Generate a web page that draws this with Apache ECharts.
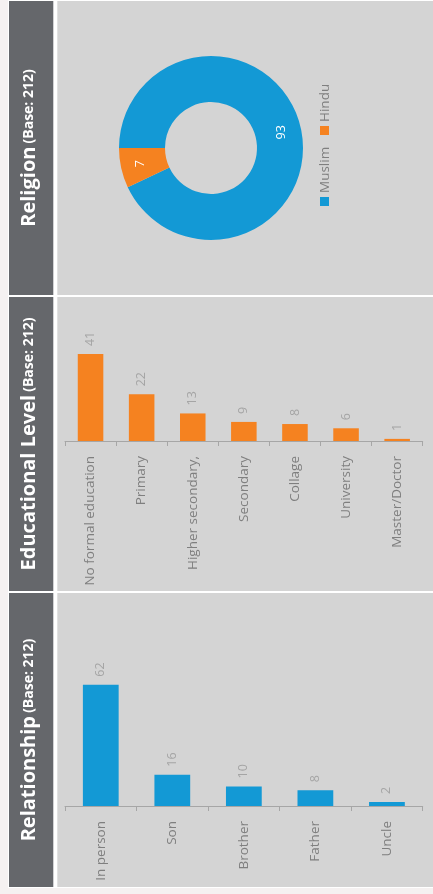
<!DOCTYPE html>
<html>
<head>
<meta charset="utf-8">
<script src="https://cdn.jsdelivr.net/npm/echarts@6/dist/echarts.min.js"></script>
<style>
html,body{margin:0;padding:0;background:#f5f1f1;}
#c{width:433px;height:894px;}
</style>
</head>
<body>
<div id="c"></div>
<script>
// ---- data ----
var religionNames = ['Muslim', 'Hindu'];
var religionValues = [93, 7];
var religionColors = ['#1399d5', '#f58220'];

var eduCategories = ['No formal education', 'Primary', 'Higher secondary,', 'Secondary', 'Collage', 'University', 'Master/Doctor'];
var eduValues = [41, 22, 13, 9, 8, 6, 1];

var relCategories = ['In person', 'Son', 'Brother', 'Father', 'Uncle'];
var relValues = [62, 16, 10, 8, 2];

var headerTitles = ['Religion', 'Educational Level', 'Relationship'];
var headerBase = '(Base: 212)';

// ---- layout ----
var FONT = 'Open Sans';
var panels = [[1, 295], [297, 591], [593, 887]];
var graphics = [];
graphics.push({type:'rect', z:-20, shape:{x:8, y:0, width:425, height:888}, style:{fill:'#ffffff'}});
panels.forEach(function (p, i) {
  graphics.push({type:'rect', z:-10, shape:{x:9, y:p[0], width:44.3, height:p[1]-p[0]}, style:{fill:'#65676b'}});
  graphics.push({type:'rect', z:-10, shape:{x:57.3, y:p[0], width:376, height:p[1]-p[0]}, style:{fill:'#d4d4d4'}});
  graphics.push({
    type:'text', z:50, x:29, y:(p[0]+p[1])/2, rotation:Math.PI/2,
    style:{
      text:'{a|' + headerTitles[i] + '} {b|' + headerBase + '}',
      align:'center', verticalAlign:'middle', fill:'#ffffff', fontFamily:FONT,
      rich:{
        a:{fontSize:20, fontWeight:'bold', fill:'#ffffff', fontFamily:FONT},
        b:{fontSize:14, fontWeight:'bold', fill:'#ffffff', fontFamily:FONT}
      }
    }
  });
});
// legend for religion (rotated, built from the arrays)
var legendY = [197, 126];
religionNames.forEach(function (n, i) {
  graphics.push({type:'rect', z:50, shape:{x:320, y:legendY[i], width:9, height:9}, style:{fill:religionColors[i]}});
  graphics.push({type:'text', z:50, x:325, y:legendY[i]-4, rotation:Math.PI/2,
    style:{text:n, align:'left', verticalAlign:'middle', fill:'#7f7f7f', fontSize:13.5, fontFamily:FONT}});
});

var axisLine = {show:true, lineStyle:{color:'#a6a6a6', width:1}};
var valueLabel = {show:true, position:'top', rotate:90, align:'left', verticalAlign:'middle',
  distance:8, color:'#a5a5a5', fontSize:12.5, fontFamily:FONT};

var chart = echarts.init(document.getElementById('c'), null, {renderer:'canvas'});
chart.setOption({
  backgroundColor:'#f5f1f1',
  animation:false,
  textStyle:{fontFamily:FONT},
  graphic:{elements:graphics},
  grid:[
    {left:65, right:10.3, top:335, bottom:453},
    {left:65, right:10.3, top:669, bottom:88}
  ],
  xAxis:[
    {type:'category', gridIndex:0, data:eduCategories,
     axisLine:axisLine, axisTick:{show:true, length:5, lineStyle:{color:'#a6a6a6'}},
     axisLabel:{rotate:90, interval:0, margin:15, color:'#7f7f7f', fontSize:13.5, fontFamily:FONT}},
    {type:'category', gridIndex:1, data:relCategories,
     axisLine:axisLine, axisTick:{show:true, length:5, lineStyle:{color:'#a6a6a6'}},
     axisLabel:{rotate:90, interval:0, margin:15, color:'#7f7f7f', fontSize:13.5, fontFamily:FONT}}
  ],
  yAxis:[
    {type:'value', gridIndex:0, min:0, max:50, show:false},
    {type:'value', gridIndex:1, min:0, max:70, show:false}
  ],
  series:[
    {type:'bar', xAxisIndex:0, yAxisIndex:0, data:eduValues, barWidth:'50%',
     itemStyle:{color:'#f58220'}, label:valueLabel, emphasis:{disabled:true}},
    {type:'bar', xAxisIndex:1, yAxisIndex:1, data:relValues, barWidth:'50%',
     itemStyle:{color:'#1399d5'}, label:valueLabel, emphasis:{disabled:true}},
    {type:'pie', center:[211, 148], radius:[46, 92], startAngle:180, clockwise:true,
     avoidLabelOverlap:false, emphasis:{disabled:true},
     data:religionNames.map(function (n, i) { return {name:n, value:religionValues[i], itemStyle:{color:religionColors[i]}}; }),
     label:{show:true, position:'inside', rotate:90, formatter:'{c}', color:'#ffffff', fontSize:12.5, fontFamily:FONT},
     labelLine:{show:false}}
  ]
});
</script>
</body>
</html>
